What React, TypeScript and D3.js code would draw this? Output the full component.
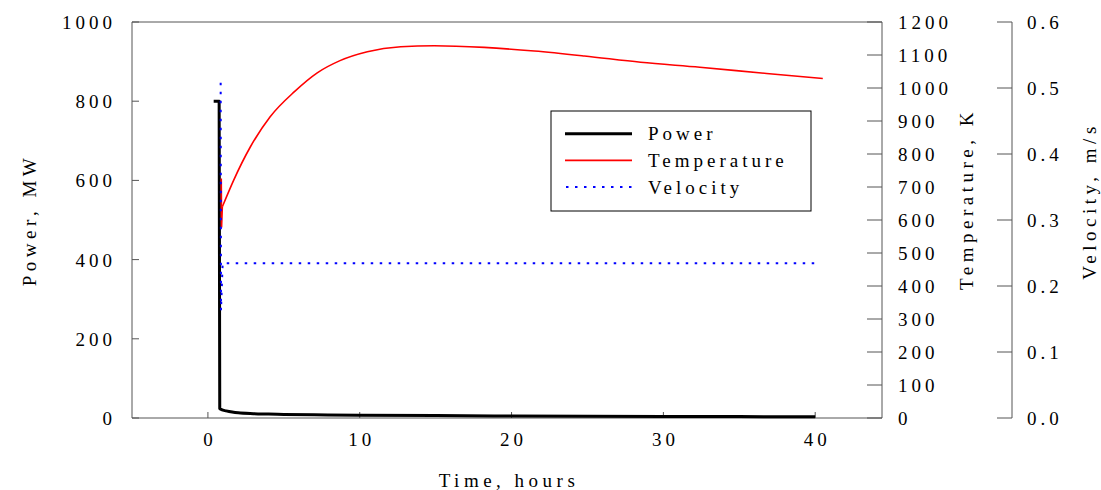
import React from "react";
import * as d3 from "d3";

const xTicks = [0, 10, 20, 30, 40];
const powerTicks = [0, 200, 400, 600, 800, 1000];
const tempTicks = [0, 100, 200, 300, 400, 500, 600, 700, 800, 900, 1000, 1100, 1200];
const velTicks = [0, 0.1, 0.2, 0.3, 0.4, 0.5, 0.6];

const powerT = [0.38, 0.74, 0.78, 0.9, 1.2, 1.6, 2, 3, 4, 5, 7, 10, 15, 20, 25, 30, 35, 40];
const powerV = [800, 800, 24, 21, 18, 15, 13, 11, 10, 9, 8, 7, 6, 5, 4.5, 4, 3.5, 3];

const tempT = [0.88, 0.9, 0.95, 1.7, 2.8, 4.1, 5.7, 7.2, 8.7, 10.5, 12.7, 14.9, 18.2, 21.5, 24.8, 28.5, 32.4, 36.8, 40.5];
const tempV = [726, 577, 640, 721, 822, 913, 989, 1046, 1083, 1110, 1125, 1128, 1123, 1112, 1097, 1078, 1063, 1044, 1029];

const velT = [0.84, 0.86, 0.97, 40.3];
const velV = [0.508, 0.163, 0.2345, 0.2345];

const legendItems = ["Power", "Temperature", "Velocity"];

const L = 132, R = 882, T = 22, B = 418;
const FONT = "'Liberation Serif', 'Times New Roman', Times, serif";

export default function App() {
  const x = d3.scaleLinear().domain([-5, 44.4]).range([L, R]);
  const yP = d3.scaleLinear().domain([0, 1000]).range([B, T]);
  const yT = d3.scaleLinear().domain([0, 1200]).range([B, T]);
  const yV = d3.scaleLinear().domain([0, 0.6]).range([B, T]);

  const powerLine = d3.line<number>().x((d, i) => x(powerT[i])).y((d) => yP(d)).curve(d3.curveMonotoneX);
  const tempPts: [number, number][] = tempT.map((t, i) => [t, tempV[i]]);
  const tempSpike = d3.line<[number, number]>().x((d) => x(d[0])).y((d) => yT(d[1]));
  const tempRise = d3.line<[number, number]>().x((d) => x(d[0])).y((d) => yT(d[1])).curve(d3.curveMonotoneX);
  const velLine = d3.line<number>().x((d, i) => x(velT[i])).y((d) => yV(d));

  const axisColor = "#555";
  const fs = 19;
  const ls = 4;
  const tls = 4.5;
  const VX = 1012;

  return (
    <svg width={1101} height={490} style={{ position: "absolute", left: 0, top: 0, background: "#fff", fontFamily: FONT }}>
      {/* plot frame */}
      <line x1={L} y1={T} x2={R} y2={T} stroke={axisColor} strokeWidth={1} />
      <line x1={L} y1={T} x2={L} y2={B} stroke={axisColor} strokeWidth={1} />
      <line x1={L} y1={B} x2={R} y2={B} stroke={axisColor} strokeWidth={1} />
      <line x1={R} y1={T} x2={R} y2={B} stroke={axisColor} strokeWidth={1} />

      {/* x ticks */}
      {xTicks.map((t) => (
        <g key={"x" + t}>
          <line x1={x(t)} x2={x(t)} y1={B} y2={B - 6} stroke={axisColor} />
          <text x={x(t) + ls / 2} y={446} textAnchor="middle" fontSize={fs} letterSpacing={ls}>{t}</text>
        </g>
      ))}
      <text x={507 + 2} y={487} textAnchor="middle" fontSize={fs} letterSpacing={tls}>Time, hours</text>

      {/* left power axis */}
      {powerTicks.map((t) => (
        <g key={"p" + t}>
          <line x1={L} x2={L + 7} y1={yP(t)} y2={yP(t)} stroke={axisColor} />
          <text x={112 + ls} y={yP(t) + 7} textAnchor="end" fontSize={fs} letterSpacing={ls}>{t}</text>
        </g>
      ))}
      <text transform={`translate(36,${220}) rotate(-90)`} textAnchor="middle" fontSize={fs} letterSpacing={tls}>Power, MW</text>

      {/* temperature axis */}
      {tempTicks.map((t) => (
        <g key={"t" + t}>
          <line x1={R} x2={R - 15} y1={yT(t)} y2={yT(t)} stroke={axisColor} />
          <text x={898} y={yT(t) + 7} textAnchor="start" fontSize={fs} letterSpacing={ls}>{t}</text>
        </g>
      ))}
      <text transform={`translate(973,${199}) rotate(-90)`} textAnchor="middle" fontSize={fs} letterSpacing={tls}>Temperature, K</text>

      {/* velocity axis */}
      <line x1={VX} y1={T} x2={VX} y2={B} stroke={axisColor} strokeWidth={1} />
      {velTicks.map((t) => (
        <g key={"v" + t}>
          <line x1={VX} x2={VX - 15} y1={yV(t)} y2={yV(t)} stroke={axisColor} />
          <text x={1027} y={yV(t) + 7} textAnchor="start" fontSize={fs} letterSpacing={ls}>{t.toFixed(1)}</text>
        </g>
      ))}
      <text transform={`translate(1096,${201}) rotate(-90)`} textAnchor="middle" fontSize={fs} letterSpacing={tls}>Velocity, m/s</text>

      {/* series */}
      <path d={powerLine(powerV) || ""} fill="none" stroke="#000" strokeWidth={3} strokeLinejoin="round" />
      <path d={tempSpike(tempPts.slice(0, 3)) || ""} fill="none" stroke="#ff0000" strokeWidth={1.6} />
      <path d={tempRise(tempPts.slice(2)) || ""} fill="none" stroke="#ff0000" strokeWidth={1.6} />
      <path d={velLine(velV) || ""} fill="none" stroke="#0000ff" strokeWidth={2} strokeDasharray="2.5 6.5" />

      {/* legend */}
      <rect x={551} y={111} width={260} height={100} fill="#fff" stroke="#000" strokeWidth={1} />
      {legendItems.map((name, i) => {
        const yy = 133.7 + i * 26.7;
        return (
          <g key={name}>
            {i === 0 && <line x1={565} x2={632} y1={yy} y2={yy} stroke="#000" strokeWidth={3} />}
            {i === 1 && <line x1={565} x2={632} y1={yy} y2={yy} stroke="#ff0000" strokeWidth={1.6} />}
            {i === 2 && <line x1={566} x2={632} y1={yy} y2={yy} stroke="#0000ff" strokeWidth={2} strokeDasharray="2.5 6.5" />}
            <text x={648} y={yy + 6.5} fontSize={fs} letterSpacing={ls}>{name}</text>
          </g>
        );
      })}
    </svg>
  );
}
